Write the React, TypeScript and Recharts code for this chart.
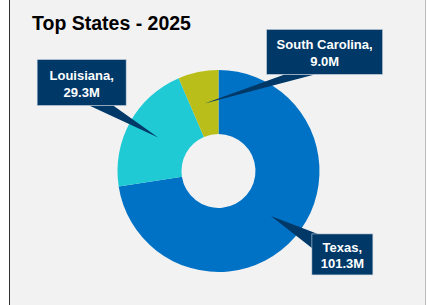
import { PieChart, Pie, Cell } from 'recharts'

const STATES = ['Texas', 'Louisiana', 'South Carolina']
const VOLUMES = [101.3, 29.3, 9.0]
const VALUE_LABELS = ['101.3M', '29.3M', '9.0M']

const COLORS = ['#0072C6', '#20CAD4', '#B9BE1A']
const BOX_COLOR = '#003867'

// callout box placement relative to the slice tip (box top-left, size, pointer base)
const CALLOUTS = [
  { dx: 41, dy: 18, w: 61, h: 41, base: [[6, 0], [0, 14]] },
  { dx: -121, dy: -78, w: 89, h: 46, base: [[52, 46], [76, 46]] },
  { dx: 62, dy: -74, w: 116, h: 45, base: [[18, 45], [48, 45]] },
]

const RADIAN = Math.PI / 180

const data = STATES.map((name, i) => ({
  name,
  value: VOLUMES[i],
  label: VALUE_LABELS[i],
}))

function Callout(props: any) {
  const { cx, cy, midAngle, innerRadius, outerRadius, index } = props
  const c = CALLOUTS[index]
  const r = (innerRadius + outerRadius) / 2
  const tx = cx + r * Math.cos(-midAngle * RADIAN)
  const ty = cy + r * Math.sin(-midAngle * RADIAN)
  const bx = tx + c.dx
  const by = ty + c.dy
  const pts = [
    [tx, ty],
    [bx + c.base[0][0], by + c.base[0][1]],
    [bx + c.base[1][0], by + c.base[1][1]],
  ]
    .map((p) => p.join(','))
    .join(' ')
  const mx = bx + c.w / 2
  const my = by + c.h / 2
  return (
    <g>
      <polygon points={pts} fill={BOX_COLOR} />
      <rect x={bx} y={by} width={c.w} height={c.h} fill={BOX_COLOR} stroke="#c9d3de" strokeWidth={0.6} />
      <text
        x={mx}
        textAnchor="middle"
        fill="#ffffff"
        fontFamily="'Liberation Sans', Arial, sans-serif"
        fontWeight="bold"
        fontSize={13}
      >
        <tspan x={mx} y={my - 2.5}>{STATES[index]},</tspan>
        <tspan x={mx} y={my + 14}>{VALUE_LABELS[index]}</tspan>
      </text>
    </g>
  )
}

export default function App() {
  return (
    <div style={{ position: 'fixed', left: 0, top: 0, width: 427, height: 305, background: '#ffffff' }}>
      <div
        style={{
          position: 'absolute',
          left: 9,
          top: 0,
          width: 415,
          height: 320,
          background: '#f2f2f2',
          borderLeft: '1px solid #333333',
          borderRight: '1px solid #bdbdbd',
        }}
      >
        <div
          style={{
            position: 'absolute',
            left: 22,
            top: 13.5,
            fontFamily: "'Liberation Sans', Arial, sans-serif",
            fontWeight: 'bold',
            fontSize: 19.5,
            lineHeight: 1,
            color: '#000000',
            whiteSpace: 'nowrap',
          }}
        >
          Top States - 2025
        </div>
        <div style={{ position: 'absolute', left: 0, top: 0 }}>
          <PieChart width={415} height={305} margin={{ top: 0, right: 0, bottom: 0, left: 0 }}>
            <Pie
              data={data}
              dataKey="value"
              nameKey="name"
              cx={208.5}
              cy={171}
              innerRadius={37}
              outerRadius={101}
              startAngle={90}
              endAngle={-270}
              stroke="none"
              label={Callout}
              labelLine={false}
              isAnimationActive={false}
            >
              {data.map((d, i) => (
                <Cell key={d.name} fill={COLORS[i]} />
              ))}
            </Pie>
          </PieChart>
        </div>
      </div>
    </div>
  )
}
